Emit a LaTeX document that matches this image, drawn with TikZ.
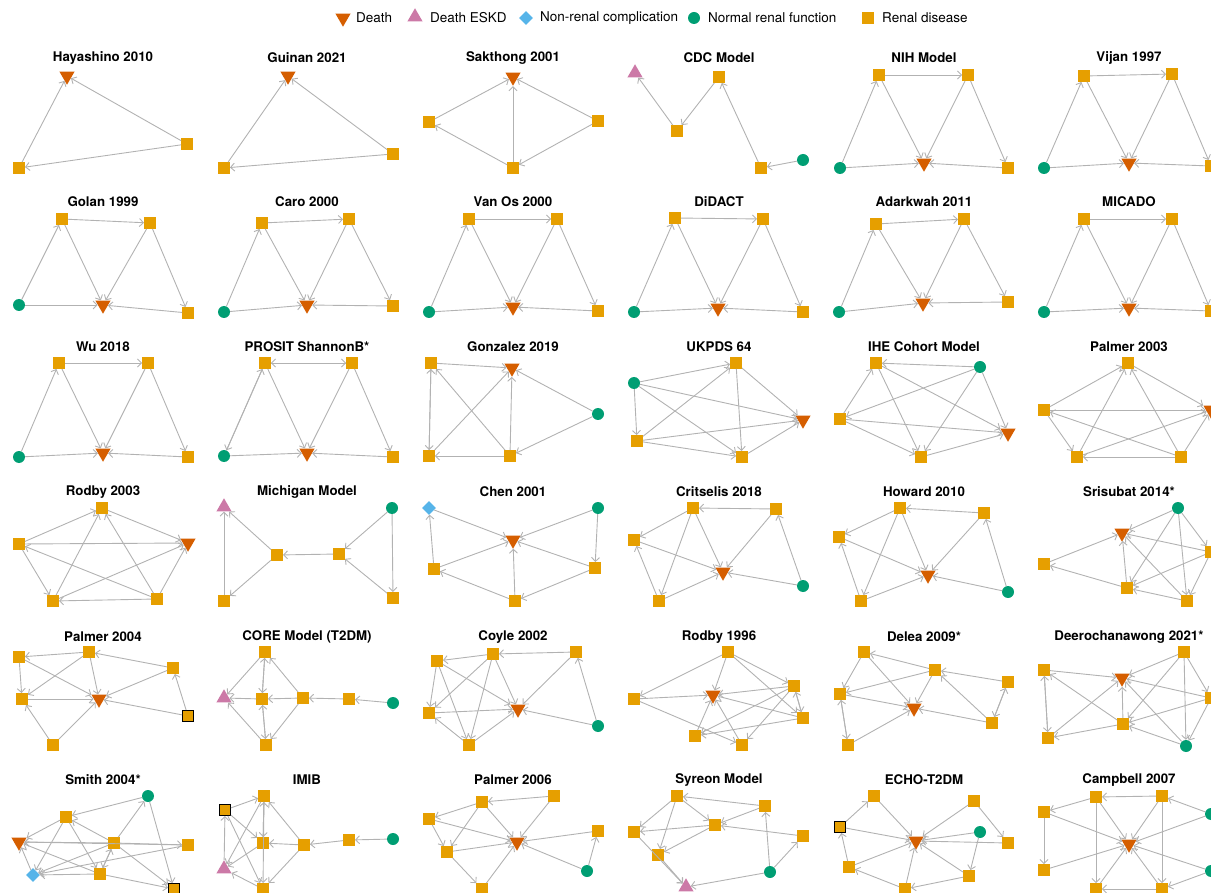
\documentclass[tikz,border=0pt]{standalone}
\usepackage{fontspec}
\setmainfont{TeX Gyre Heros}
\usetikzlibrary{shapes.geometric,arrows.meta}
\definecolor{C0}{RGB}{213,94,0}
\definecolor{C1}{RGB}{204,121,167}
\definecolor{C2}{RGB}{86,180,233}
\definecolor{C3}{RGB}{0,158,115}
\definecolor{C4}{RGB}{230,159,0}
\definecolor{C5}{RGB}{178,178,178}

\tikzset{
  death/.style={regular polygon, regular polygon sides=3, shape border rotate=180, fill=C0, minimum size=17.5pt, inner sep=0pt},
  eskd/.style={regular polygon, regular polygon sides=3, fill=C1, minimum size=17.5pt, inner sep=0pt},
  nonrenal/.style={diamond, fill=C2, minimum size=14pt, inner sep=0pt},
  normal/.style={circle, fill=C3, minimum size=12pt, inner sep=0pt},
  renal/.style={rectangle, fill=C4, minimum size=11.5pt, inner sep=0pt},
  renalb/.style={renal, draw=black, line width=1.4pt, minimum size=10.5pt},
  edge/.style={draw=C5, line width=0.9pt, -{Straight Barb[length=4pt,width=8pt]}},
  title/.style={font=\fontsize{13.3}{15}\selectfont\bfseries},
  legtext/.style={font=\fontsize{13.5}{16}\selectfont, anchor=west, inner sep=0pt}
}

\begin{document}
\begin{tikzpicture}[x=1pt,y=-1pt]

  \useasboundingbox (0,0) rectangle (1211,893);
  \clip (0,0) rectangle (1211,893);

  % Legend.
  \node[death] (lg0) at (343,18) {};
  \node[legtext] (lt0) at (356,18) {Death};
  \node[eskd] (lg1) at (415,17) {};
  \node[legtext] (lt1) at (430,18) {Death ESKD};
  \node[nonrenal] (lg2) at (526,18) {};
  \node[legtext] (lt2) at (540,18) {Non-renal complication};
  \node[normal] (lg3) at (694,18) {};
  \node[legtext] (lt3) at (708,18) {Normal renal function};
  \node[renal] (lg4) at (868,18) {};
  \node[legtext] (lt4) at (882,18) {Renal disease};

  % Row 1.
  \node[title] (a1t) at (103,58) {Hayashino 2010};
  \node[death] (a1d) at (67,76) {};
  \node[renal] (a1p) at (19,168) {};
  \node[renal] (a1q) at (187,144) {};
  \foreach \p/\q in {p/d,q/d,q/p} \draw[edge] (a1\p) -- (a1\q);

  \node[title] (a2t) at (307,58) {Guinan 2021};
  \node[death] (a2d) at (288,76) {};
  \node[renal] (a2p) at (224,168) {};
  \node[renal] (a2q) at (393,154) {};
  \foreach \p/\q in {p/d,q/d,q/p} \draw[edge] (a2\p) -- (a2\q);

  \node[title] (a3t) at (513,58) {Sakthong 2001};
  \node[death] (a3d) at (513,77) {};
  \node[renal] (a3l) at (429,122) {};
  \node[renal] (a3r) at (598,121) {};
  \node[renal] (a3b) at (513,168) {};
  \foreach \p/\q in {l/d,b/d,r/d,b/l,r/b} \draw[edge] (a3\p) -- (a3\q);

  \node[title] (a4t) at (719,58) {CDC Model};
  \node[eskd] (a4e) at (635,73) {};
  \node[renal] (a4p) at (677,131) {};
  \node[renal] (a4q) at (719,77) {};
  \node[renal] (a4s) at (761,168) {};
  \node[normal] (a4g) at (803,160) {};
  \foreach \p/\q in {p/e,q/p,s/q,g/s} \draw[edge] (a4\p) -- (a4\q);

  \node[title] (a5t) at (924,58) {NIH Model};
  \node[renal] (a5l) at (879,75) {};
  \node[renal] (a5r) at (968,75) {};
  \node[normal] (a5g) at (840,168) {};
  \node[death] (a5d) at (924,163) {};
  \node[renal] (a5b) at (1008,168) {};
  \foreach \p/\q in {g/l,l/r,l/d,r/d,r/b,g/d,b/d} \draw[edge] (a5\p) -- (a5\q);

  \node[title] (a6t) at (1129,58) {Vijan 1997};
  \node[renal] (a6l) at (1084,76) {};
  \node[renal] (a6r) at (1172,74) {};
  \node[normal] (a6g) at (1044,168) {};
  \node[death] (a6d) at (1129,163) {};
  \node[renal] (a6b) at (1211,166) {};
  \foreach \p/\q in {g/l,l/r,l/d,r/d,r/b,g/d,b/d} \draw[edge] (a6\p) -- (a6\q);

  % Row 2.
  \node[title] (b1t) at (103,202) {Golan 1999};
  \node[renal] (b1l) at (62,219) {};
  \node[renal] (b1r) at (150,223) {};
  \node[normal] (b1g) at (19,305) {};
  \node[death] (b1d) at (103,305) {};
  \node[renal] (b1b) at (188,313) {};
  \foreach \p/\q in {g/l,l/r,l/d,r/d,r/b,g/d,b/d} \draw[edge] (b1\p) -- (b1\q);

  \node[title] (b2t) at (307,202) {Caro 2000};
  \node[renal] (b2l) at (262,223) {};
  \node[renal] (b2r) at (349,219) {};
  \node[normal] (b2g) at (224,312) {};
  \node[death] (b2d) at (307,305) {};
  \node[renal] (b2b) at (393,306) {};
  \foreach \p/\q in {g/l,l/r,l/d,r/d,r/b,g/d,b/d} \draw[edge] (b2\p) -- (b2\q);

  \node[title] (b3t) at (513,202) {Van Os 2000};
  \node[renal] (b3l) at (469,219) {};
  \node[renal] (b3r) at (557,219) {};
  \node[normal] (b3g) at (429,312) {};
  \node[death] (b3d) at (513,307) {};
  \node[renal] (b3b) at (598,311) {};
  \foreach \p/\q in {g/l,l/r,l/d,r/d,r/b,g/d,b/d} \draw[edge] (b3\p) -- (b3\q);

  \node[title] (b4t) at (719,202) {DiDACT};
  \node[renal] (b4l) at (675,218) {};
  \node[renal] (b4r) at (763,219) {};
  \node[normal] (b4g) at (634,312) {};
  \node[death] (b4d) at (718,308) {};
  \node[renal] (b4b) at (803,312) {};
  \foreach \p/\q in {g/l,l/r,l/d,r/d,r/b,g/d,b/d} \draw[edge] (b4\p) -- (b4\q);

  \node[title] (b5t) at (924,202) {Adarkwah 2011};
  \node[renal] (b5l) at (876,224) {};
  \node[renal] (b5r) at (964,219) {};
  \node[normal] (b5g) at (839,312) {};
  \node[death] (b5d) at (923,303) {};
  \node[renal] (b5b) at (1008,302) {};
  \foreach \p/\q in {g/l,l/r,l/d,r/d,r/b,g/d,b/d} \draw[edge] (b5\p) -- (b5\q);

  \node[title] (b6t) at (1129,202) {MICADO};
  \node[renal] (b6l) at (1084,219) {};
  \node[renal] (b6r) at (1172,219) {};
  \node[normal] (b6g) at (1044,312) {};
  \node[death] (b6d) at (1129,308) {};
  \node[renal] (b6b) at (1211,311) {};
  \foreach \p/\q in {g/l,l/r,l/d,r/d,r/b,g/d,b/d} \draw[edge] (b6\p) -- (b6\q);

  % Row 3.
  \node[title] (c1t) at (103,347) {Wu 2018};
  \node[renal] (c1l) at (59,363) {};
  \node[renal] (c1r) at (148,363) {};
  \node[normal] (c1g) at (19,457) {};
  \node[death] (c1d) at (103,453) {};
  \node[renal] (c1b) at (188,457) {};
  \foreach \p/\q in {g/l,l/r,l/d,r/d,r/b,g/d,b/d} \draw[edge] (c1\p) -- (c1\q);

  \node[title] (c2t) at (307,347) {PROSIT ShannonB*};
  \node[renal] (c2l) at (265,363) {};
  \node[renal] (c2r) at (352,363) {};
  \node[normal] (c2g) at (224,456) {};
  \node[death] (c2d) at (307,453) {};
  \node[renal] (c2b) at (393,457) {};
  \foreach \p/\q in {g/l,l/g,l/r,r/l,l/d,r/d,r/b,g/d,b/d} \draw[edge] (c2\p) -- (c2\q);

  \node[title] (c3t) at (513,347) {Gonzalez 2019};
  \node[renal] (c3l) at (431,363) {};
  \node[death] (c3d) at (512,368) {};
  \node[normal] (c3g) at (598,414) {};
  \node[renal] (c3m) at (429,456) {};
  \node[renal] (c3n) at (510,456) {};
  \foreach \p/\q in {l/d,l/m,m/l,m/d,n/l,n/d,g/d,g/n,n/m} \draw[edge] (c3\p) -- (c3\q);

  \node[title] (c4t) at (719,347) {UKPDS 64};
  \node[normal] (c4g) at (634,383) {};
  \node[renal] (c4u) at (736,363) {};
  \node[death] (c4d) at (803,420) {};
  \node[renal] (c4l) at (637,441) {};
  \node[renal] (c4b) at (742,457) {};
  \foreach \p/\q in {g/u,g/d,g/l,g/b,l/u,l/d,l/b,u/d,u/b,b/d} \draw[edge] (c4\p) -- (c4\q);

  \node[title] (c5t) at (924,347) {IHE Cohort Model};
  \node[renal] (c5u) at (876,363) {};
  \node[normal] (c5g) at (980,367) {};
  \node[renal] (c5l) at (840,419) {};
  \node[death] (c5d) at (1008,433) {};
  \node[renal] (c5b) at (921,457) {};
  \foreach \p/\q in {g/u,g/l,g/d,g/b,u/d,l/u,l/d,l/b,u/b,b/d} \draw[edge] (c5\p) -- (c5\q);

  \node[title] (c6t) at (1129,347) {Palmer 2003};
  \node[renal] (c6u) at (1128,363) {};
  \node[renal] (c6l) at (1044,410) {};
  \node[death] (c6d) at (1211,410) {};
  \node[renal] (c6m) at (1077,457) {};
  \node[renal] (c6n) at (1181,457) {};
  \foreach \p/\q in {l/u,u/d,l/d,l/m,m/u,n/u,n/m,n/l,m/d,n/d} \draw[edge] (c6\p) -- (c6\q);

  % Row 4.
  \node[title] (d1t) at (103,492) {Rodby 2003};
  \node[renal] (d1u) at (102,508) {};
  \node[renal] (d1l) at (19,544) {};
  \node[death] (d1d) at (188,543) {};
  \node[renal] (d1m) at (53,601) {};
  \node[renal] (d1n) at (157,599) {};
  \foreach \p/\q in {l/u,u/d,l/d,l/m,m/u,n/u,n/m,n/l,m/d,n/d} \draw[edge] (d1\p) -- (d1\q);

  \node[title] (d2t) at (307,492) {Michigan Model};
  \node[eskd] (d2e) at (224,507) {};
  \node[normal] (d2g) at (392,508) {};
  \node[renal] (d2l) at (277,555) {};
  \node[renal] (d2r) at (339,554) {};
  \node[renal] (d2m) at (224,601) {};
  \node[renal] (d2n) at (393,598) {};
  \foreach \p/\q in {l/e,m/e,l/m,r/l,g/r,g/n,n/r} \draw[edge] (d2\p) -- (d2\q);

  \node[title] (d3t) at (513,492) {Chen 2001};
  \node[nonrenal] (d3x) at (429,508) {};
  \node[normal] (d3g) at (598,508) {};
  \node[death] (d3d) at (513,540) {};
  \node[renal] (d3l) at (434,569) {};
  \node[renal] (d3r) at (595,568) {};
  \node[renal] (d3b) at (515,601) {};
  \foreach \p/\q in {x/d,g/d,l/x,l/d,g/r,r/d,b/d,b/l,r/b} \draw[edge] (d3\p) -- (d3\q);

  \node[title] (d4t) at (719,492) {Critselis 2018};
  \node[renal] (d4u) at (693,508) {};
  \node[renal] (d4r) at (776,509) {};
  \node[renal] (d4l) at (634,540) {};
  \node[death] (d4d) at (723,572) {};
  \node[normal] (d4g) at (803,586) {};
  \node[renal] (d4b) at (659,601) {};
  \foreach \p/\q in {r/u,u/l,u/d,u/b,r/d,g/r,g/d,l/d,b/l,b/d} \draw[edge] (d4\p) -- (d4\q);

  \node[title] (d5t) at (924,492) {Howard 2010};
  \node[renal] (d5u) at (900,508) {};
  \node[renal] (d5r) at (984,513) {};
  \node[renal] (d5l) at (839,537) {};
  \node[death] (d5d) at (928,575) {};
  \node[normal] (d5g) at (1008,592) {};
  \node[renal] (d5b) at (861,601) {};
  \foreach \p/\q in {r/u,u/l,u/d,u/b,r/d,g/r,g/d,l/d,b/l,b/d} \draw[edge] (d5\p) -- (d5\q);

  \node[title] (d6t) at (1129,492) {Srisubat 2014*};
  \node[normal] (d6g) at (1178,508) {};
  \node[death] (d6d) at (1122,533) {};
  \node[renal] (d6l) at (1044,564) {};
  \node[renal] (d6r) at (1211,552) {};
  \node[renal] (d6c) at (1127,588) {};
  \node[renal] (d6n) at (1187,601) {};
  \foreach \p/\q in {g/d,l/d,c/l,r/d,g/c,g/n,g/r,c/d,n/d,r/c,n/c,r/n} \draw[edge] (d6\p) -- (d6\q);

  % Row 5.
  \node[title] (e1t) at (103,637) {Palmer 2004};
  \node[renal] (e1a) at (19,657) {};
  \node[renal] (e1u) at (89,652) {};
  \node[renal] (e1r) at (173,668) {};
  \node[renal] (e1l) at (22,699) {};
  \node[death] (e1d) at (99,699) {};
  \node[renalb] (e1k) at (188,716) {};
  \node[renal] (e1b) at (53,745) {};
  \foreach \p/\q in {u/a,a/l,a/d,u/l,u/d,r/u,r/d,k/r,k/d,l/d,b/l,b/d} \draw[edge] (e1\p) -- (e1\q);

  \node[title] (e2t) at (307,637) {CORE Model (T2DM)};
  \node[renal] (e2u) at (265,652) {};
  \node[eskd] (e2e) at (224,698) {};
  \node[renal] (e2c) at (262,699) {};
  \node[renal] (e2m) at (303,698) {};
  \node[renal] (e2r) at (349,699) {};
  \node[normal] (e2g) at (393,703) {};
  \node[renal] (e2b) at (266,745) {};
  \foreach \p/\q in {u/e,u/c,c/u,m/u,c/e,m/c,r/m,g/r,b/e,b/c,c/b,m/b} \draw[edge] (e2\p) -- (e2\q);

  \node[title] (e3t) at (513,637) {Coyle 2002};
  \node[renal] (e3a) at (437,661) {};
  \node[renal] (e3u) at (493,654) {};
  \node[renal] (e3r) at (576,652) {};
  \node[renal] (e3l) at (429,713) {};
  \node[death] (e3d) at (518,709) {};
  \node[normal] (e3g) at (598,726) {};
  \node[renal] (e3b) at (469,745) {};
  \foreach \p/\q in {u/a,r/u,r/d,a/l,a/d,a/b,u/l,u/d,u/b,l/d,b/l,b/d,g/r,g/d} \draw[edge] (e3\p) -- (e3\q);

  \node[title] (e4t) at (719,637) {Rodby 1996};
  \node[renal] (e4u) at (728,652) {};
  \node[renal] (e4l) at (634,699) {};
  \node[death] (e4d) at (713,695) {};
  \node[renal] (e4r) at (794,686) {};
  \node[renal] (e4s) at (803,718) {};
  \node[renal] (e4m) at (695,736) {};
  \node[renal] (e4n) at (742,745) {};
  \foreach \p/\q in {u/l,u/d,u/r,u/s,l/d,l/n,r/d,r/m,r/s,s/r,r/n,s/d,s/m,m/d,n/d} \draw[edge] (e4\p) -- (e4\q);

  \node[title] (e5t) at (924,637) {Delea 2009*};
  \node[renal] (e5a) at (864,652) {};
  \node[renal] (e5c) at (935,670) {};
  \node[renal] (e5r) at (1008,682) {};
  \node[renal] (e5l) at (840,694) {};
  \node[death] (e5d) at (914,708) {};
  \node[renal] (e5s) at (992,723) {};
  \node[renal] (e5b) at (848,745) {};
  \foreach \p/\q in {c/a,a/l,a/d,c/l,c/d,r/c,r/s,s/r,s/c,s/d,l/d,l/b,b/l,b/d} \draw[edge] (e5\p) -- (e5\q);

  \node[title] (e6t) at (1129,637) {Deerochanawong 2021*};
  \node[renal] (e6a) at (1044,670) {};
  \node[death] (e6d) at (1122,678) {};
  \node[renal] (e6u) at (1184,652) {};
  \node[renal] (e6r) at (1211,698) {};
  \node[renal] (e6c) at (1123,724) {};
  \node[renal] (e6b) at (1048,738) {};
  \node[normal] (e6g) at (1186,746) {};
  \foreach \p/\q in {a/d,a/b,b/a,c/a,u/d,u/c,u/g,c/d,c/b,b/d,g/c,g/d,r/d,r/c,r/g,u/r} \draw[edge] (e6\p) -- (e6\q);

  % Row 6.
  \node[title] (f1t) at (103,780) {Smith 2004*};
  \node[normal] (f1g) at (148,796) {};
  \node[renal] (f1a) at (66,817) {};
  \node[death] (f1d) at (19,842) {};
  \node[renal] (f1c) at (114,843) {};
  \node[renal] (f1r) at (188,845) {};
  \node[nonrenal] (f1x) at (33,875) {};
  \node[renal] (f1b) at (100,874) {};
  \node[renalb] (f1k) at (174,889) {};
  \foreach \p/\q in {g/a,c/a,a/d,a/b,a/x,c/d,c/g,c/r,c/x,c/b,b/c,c/k,g/k,r/d,r/x,b/x,b/d,b/k,x/d} \draw[edge] (f1\p) -- (f1\q);

  \node[title] (f2t) at (307,780) {IMIB};
  \node[renal] (f2u) at (264,796) {};
  \node[renalb] (f2k) at (225,810) {};
  \node[renal] (f2c) at (263,843) {};
  \node[renal] (f2m) at (304,845) {};
  \node[renal] (f2r) at (349,840) {};
  \node[normal] (f2g) at (393,839) {};
  \node[eskd] (f2e) at (224,869) {};
  \node[renal] (f2b) at (263,889) {};
  \foreach \p/\q in {k/u,u/e,u/c,c/u,m/u,k/c,k/b,e/k,m/c,r/m,g/r,c/e,m/b,b/e,u/b} \draw[edge] (f2\p) -- (f2\q);

  \node[title] (f3t) at (513,780) {Palmer 2006};
  \node[renal] (f3u) at (482,802) {};
  \node[renal] (f3v) at (554,796) {};
  \node[renal] (f3l) at (429,819) {};
  \node[renal] (f3r) at (598,831) {};
  \node[death] (f3d) at (517,842) {};
  \node[renal] (f3m) at (447,852) {};
  \node[normal] (f3g) at (587,871) {};
  \node[renal] (f3b) at (482,889) {};
  \foreach \p/\q in {v/u,u/l,u/m,u/d,v/d,l/d,l/m,m/d,m/b,b/d,r/d,g/r,g/d} \draw[edge] (f3\p) -- (f3\q);

  \node[title] (f4t) at (719,780) {Syreon Model};
  \node[renal] (f4u) at (677,796) {};
  \node[renal] (f4v) at (765,806) {};
  \node[renal] (f4c) at (715,825) {};
  \node[renal] (f4l) at (634,832) {};
  \node[renal] (f4r) at (803,836) {};
  \node[renal] (f4m) at (658,855) {};
  \node[normal] (f4g) at (770,872) {};
  \node[eskd] (f4e) at (686,887) {};
  \foreach \p/\q in {u/l,u/c,u/m,v/u,v/c,r/c,c/l,c/m,g/v,g/r,g/e,m/e,l/e} \draw[edge] (f4\p) -- (f4\q);

  \node[title] (f5t) at (924,780) {ECHO-T2DM};
  \node[renal] (f5u) at (874,796) {};
  \node[renalb] (f5k) at (840,827) {};
  \node[renal] (f5v) at (974,801) {};
  \node[normal] (f5g) at (980,832) {};
  \node[death] (f5d) at (916,841) {};
  \node[renal] (f5r) at (1008,843) {};
  \node[renal] (f5l) at (849,867) {};
  \node[renal] (f5s) at (969,876) {};
  \node[renal] (f5b) at (905,889) {};
  \foreach \p/\q in {k/u,u/d,k/d,l/k,l/d,b/l,b/d,v/d,v/r,g/d,g/s,r/d,s/d,s/b} \draw[edge] (f5\p) -- (f5\q);

  \node[title] (f6t) at (1129,780) {Campbell 2007};
  \node[renal] (f6u) at (1096,797) {};
  \node[renal] (f6v) at (1162,796) {};
  \node[renal] (f6l) at (1044,812) {};
  \node[normal] (f6g) at (1211,814) {};
  \node[death] (f6d) at (1129,844) {};
  \node[renal] (f6m) at (1044,870) {};
  \node[normal] (f6h) at (1211,871) {};
  \node[renal] (f6b) at (1096,889) {};
  \node[renal] (f6n) at (1162,889) {};
  \foreach \p/\q in {v/u,u/l,u/d,u/b,v/d,v/n,l/d,l/m,g/v,g/d,m/d,b/d,n/d,n/b,h/d,h/n} \draw[edge] (f6\p) -- (f6\q);

\end{tikzpicture}
\end{document}
